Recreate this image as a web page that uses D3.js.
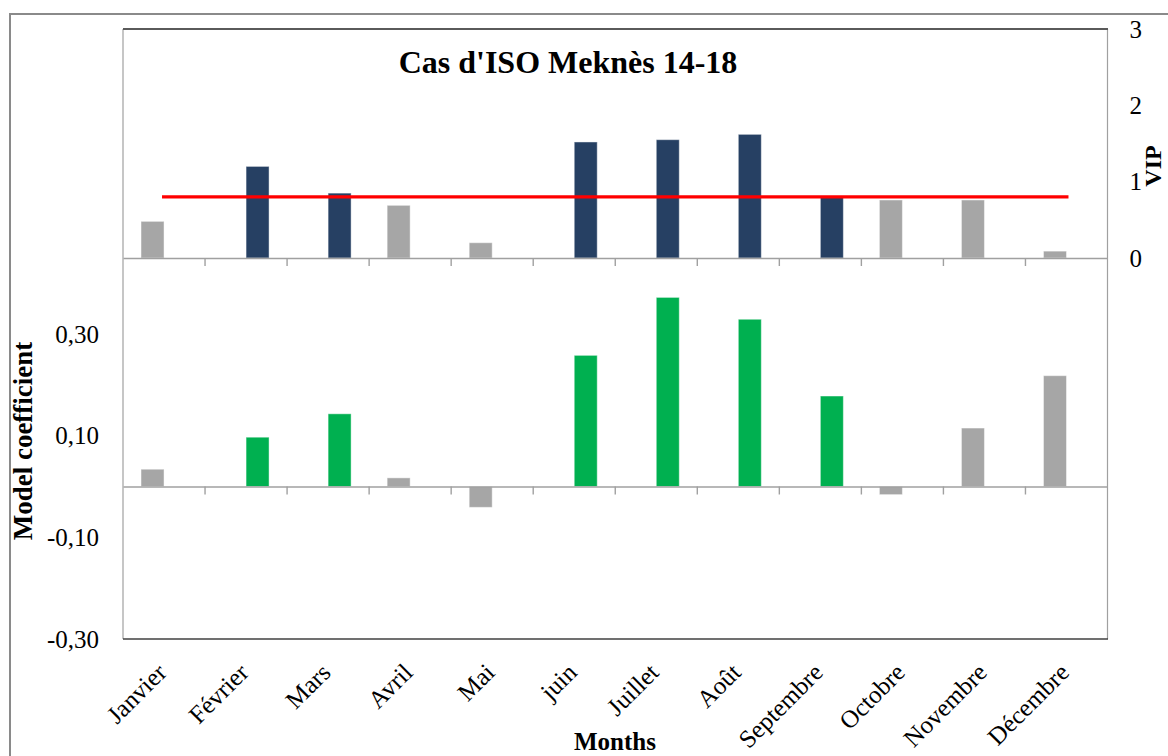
<!DOCTYPE html>
<html>
<head>
<meta charset="utf-8">
<script src="https://cdn.jsdelivr.net/npm/d3@7"></script>
<style>
  html, body { margin: 0; padding: 0; background: #fff; }
  svg { display: block; }
  text { font-family: "Liberation Serif", "Times New Roman", serif; fill: #000; }
</style>
</head>
<body>
<svg id="chart" width="1168" height="756"></svg>
<script>
// Months of the year (French labels as used in the study)
const months = ["Janvier", "Février", "Mars", "Avril", "Mai", "juin", "Juillet", "Août",
                "Septembre", "Octobre", "Novembre", "Décembre"];
// Variable importance in projection for each month
const vip = [0.48, 1.20, 0.85, 0.69, 0.20, 1.52, 1.55, 1.62, 0.81, 0.76, 0.76, 0.09];
// PLS model coefficients for each month
const coef = [0.034, 0.097, 0.143, 0.017, -0.041, 0.258, 0.372, 0.329, 0.178, -0.016, 0.115, 0.218];
// VIP significance threshold
const vipThreshold = 0.8;
// Axis ticks
const vipTicks = [0, 1, 2, 3];
const coefTicks = [-0.3, -0.1, 0.1, 0.3];

const title = "Cas d'ISO Meknès 14-18";

const svg = d3.select("#chart");

// Layout
const plotLeft = 123, plotRight = 1107.5;
const plotTop = 29, plotMid = 258, plotBottom = 639;

const x = d3.scaleBand().domain(months).range([plotLeft, plotRight]).padding(0);
const barW = 23;
// two series slots inside each month: non-significant (grey) left, significant right
const xs = d3.scaleBand().domain(["ns", "sig"])
  .range([x.bandwidth() / 2 - barW, x.bandwidth() / 2 + barW]).padding(0);

const yVip = d3.scaleLinear().domain([0, 3]).range([plotMid, plotTop]);
const yCoef = d3.scaleLinear().domain([-0.3, 0.9]).range([plotBottom, plotTop]);

const rows = months.map((m, i) => ({
  month: m, vip: vip[i], coef: coef[i], sig: vip[i] >= vipThreshold
}));

const grey = "#a6a6a6", navy = "#264063", green = "#00b050";

// outer border
svg.append("rect").attr("x", 10).attr("y", 14).attr("width", 1200).attr("height", 800)
  .attr("fill", "none").attr("stroke", "#8a8a8a").attr("stroke-width", 2);

// frame lines
svg.append("line").attr("x1", plotLeft).attr("x2", plotLeft).attr("y1", plotTop).attr("y2", plotBottom)
  .attr("stroke", "#a0a0a0").attr("stroke-width", 1.2);
svg.append("line").attr("x1", plotRight).attr("x2", plotRight).attr("y1", plotTop).attr("y2", plotBottom)
  .attr("stroke", "#a0a0a0").attr("stroke-width", 1.2);
svg.append("line").attr("x1", plotLeft).attr("x2", plotRight + 0.5).attr("y1", plotTop).attr("y2", plotTop)
  .attr("stroke", "#5a5a5a").attr("stroke-width", 2);
svg.append("line").attr("x1", plotLeft).attr("x2", plotRight + 0.5).attr("y1", plotBottom).attr("y2", plotBottom)
  .attr("stroke", "#404040").attr("stroke-width", 1.5);

// category axes (tick marks between months) for both panels
function catAxis(y0) {
  const g = svg.append("g").attr("transform", `translate(0,${y0})`)
    .call(d3.axisBottom(x).tickSizeInner(0).tickSizeOuter(0).tickFormat(""));
  g.select(".domain").attr("stroke", "#a0a0a0").attr("stroke-width", 1.4);
  g.selectAll(".tick").remove();
  g.selectAll("line.sep").data(months.slice(1)).join("line").attr("class", "sep")
    .attr("x1", d => x(d)).attr("x2", d => x(d)).attr("y1", 0).attr("y2", 8)
    .attr("stroke", "#a0a0a0").attr("stroke-width", 1.4);
}

// ---- lower panel: model coefficients ----
svg.append("g").selectAll("rect").data(rows).join("rect")
  .attr("x", d => x(d.month) + xs(d.sig ? "sig" : "ns"))
  .attr("width", xs.bandwidth())
  .attr("y", d => yCoef(Math.max(0, d.coef)))
  .attr("height", d => Math.abs(yCoef(d.coef) - yCoef(0)))
  .attr("fill", d => d.sig ? green : grey)
  .attr("stroke", "#ffffff").attr("stroke-opacity", 0.45).attr("stroke-width", 1);
catAxis(yCoef(0));

// left axis labels
const ax = svg.append("g").attr("transform", `translate(${plotLeft},0)`)
  .call(d3.axisLeft(yCoef).tickValues(coefTicks).tickSize(0).tickPadding(24)
    .tickFormat(d => d3.format(".2f")(d).replace(".", ",").replace("−", "-")));
ax.select(".domain").remove();
ax.selectAll("text").attr("font-size", 25).attr("font-family", "Liberation Serif, serif");

// ---- upper panel: VIP ----
svg.append("g").selectAll("rect").data(rows).join("rect")
  .attr("x", d => x(d.month) + xs(d.sig ? "sig" : "ns"))
  .attr("width", xs.bandwidth())
  .attr("y", d => yVip(d.vip))
  .attr("height", d => yVip(0) - yVip(d.vip))
  .attr("fill", d => d.sig ? navy : grey)
  .attr("stroke", "#ffffff").attr("stroke-opacity", 0.45).attr("stroke-width", 1);
catAxis(plotMid);

// threshold line from first to last month centre
svg.append("line")
  .attr("x1", x(months[0]) + x.bandwidth() / 2 - 2)
  .attr("x2", x(months[months.length - 1]) + x.bandwidth() / 2 + 2)
  .attr("y1", yVip(vipThreshold)).attr("y2", yVip(vipThreshold))
  .attr("stroke", "#ff0000").attr("stroke-width", 3.2);

// right VIP axis labels
const ay = svg.append("g").attr("transform", `translate(${plotRight},0)`)
  .call(d3.axisRight(yVip).tickValues(vipTicks).tickSize(0).tickPadding(22).tickFormat(d3.format("d")));
ay.select(".domain").remove();
ay.selectAll("text").attr("font-size", 25).attr("font-family", "Liberation Serif, serif");

// month labels, rotated
svg.append("g").selectAll("text").data(months).join("text")
  .attr("transform", d => `translate(${x(d) + x.bandwidth() / 2 + 4},674) rotate(-45)`)
  .attr("text-anchor", "end")
  .attr("font-size", 25)
  .text(d => d);

// titles
svg.append("text").attr("x", 568).attr("y", 73).attr("text-anchor", "middle")
  .attr("font-size", 32).attr("font-weight", "bold").text(title);
svg.append("text").attr("x", 615).attr("y", 750).attr("text-anchor", "middle")
  .attr("font-size", 25).attr("font-weight", "bold").text("Months");
svg.append("text").attr("transform", "translate(32,441) rotate(-90)").attr("text-anchor", "middle")
  .attr("font-size", 27).attr("font-weight", "bold").text("Model coefficient");
svg.append("text").attr("transform", "translate(1161,166) rotate(-90)").attr("text-anchor", "middle")
  .attr("font-size", 24).attr("font-weight", "bold").text("VIP");
</script>
</body>
</html>
